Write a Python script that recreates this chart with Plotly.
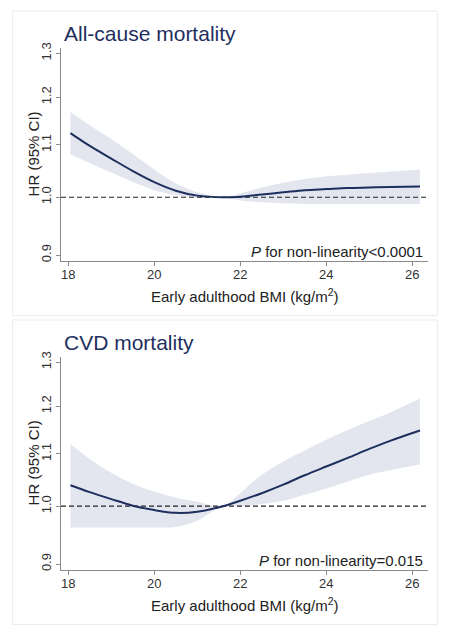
import plotly.graph_objects as go

# BMI grid (kg/m2)
bmi = [18.05, 18.5, 19.0, 19.5, 20.0, 20.5, 21.0, 21.6, 22.0, 22.5, 23.0, 23.5,
       24.0, 24.5, 25.0, 25.5, 26.18]

# all-cause mortality
hr_all = [1.124, 1.098, 1.073, 1.049, 1.028, 1.012, 1.003, 1.000, 1.001, 1.005, 1.009,
          1.013, 1.015, 1.017, 1.018, 1.019, 1.020]
hi_all = [1.168, 1.140, 1.112, 1.082, 1.052, 1.026, 1.009, 1.000, 1.007, 1.018, 1.027,
          1.034, 1.039, 1.042, 1.045, 1.048, 1.052]
lo_all = [1.081, 1.064, 1.046, 1.028, 1.013, 1.004, 0.999, 1.000, 0.994, 0.991, 0.989,
          0.988, 0.988, 0.988, 0.988, 0.988, 0.988]

# CVD mortality
hr_cvd = [1.039, 1.026, 1.013, 1.001, 0.993, 0.988, 0.990, 1.000, 1.010, 1.024, 1.040,
          1.058, 1.075, 1.092, 1.110, 1.127, 1.148]
hi_cvd = [1.120, 1.090, 1.063, 1.042, 1.027, 1.016, 1.008, 1.000, 1.024, 1.059, 1.085,
          1.107, 1.129, 1.149, 1.168, 1.187, 1.217]
lo_cvd = [0.962, 0.962, 0.962, 0.962, 0.962, 0.963, 0.974, 1.000, 1.000, 1.004, 1.010,
          1.021, 1.033, 1.046, 1.059, 1.068, 1.079]

titles = ["All-cause mortality", "CVD mortality"]
p_text = ["<i>P</i> for non-linearity<0.0001", "<i>P</i> for non-linearity=0.015"]
x_ticks = [18, 20, 22, 24, 26]
y_ticks = [0.9, 1.0, 1.1, 1.2, 1.3]
ref_hr = 1.0

W, H = 449, 633
X_RANGE = [17.83, 26.36]
Y_RANGE = [-0.0504, 0.1182]  # log10 units
SHIFT = 8  # page body margin in the browser

FONT = "Arial, Liberation Sans, sans-serif"
NAVY = "#1e2f5e"
BAND = "#e3e6ef"
AXIS = "#8a8a8a"

def px_x(x):
    return (x - SHIFT) / W

def px_y(y):
    return 1 - (y - SHIFT) / H

fig = go.Figure()

panels = [(hr_all, hi_all, lo_all), (hr_cvd, hi_cvd, lo_cvd)]
offsets = [0, 312.4]

for i, (hr, hi, lo) in enumerate(panels):
    xa = "x" if i == 0 else "x2"
    ya = "y" if i == 0 else "y2"
    fig.add_trace(go.Scatter(x=bmi, y=lo, mode="lines", line=dict(width=0, shape="spline"),
                             xaxis=xa, yaxis=ya, hoverinfo="skip", showlegend=False))
    fig.add_trace(go.Scatter(x=bmi, y=hi, mode="lines", line=dict(width=0, shape="spline"),
                             fill="tonexty", fillcolor=BAND,
                             xaxis=xa, yaxis=ya, hoverinfo="skip", showlegend=False))
    fig.add_trace(go.Scatter(x=X_RANGE, y=[ref_hr, ref_hr], mode="lines",
                             line=dict(color="#222222", width=1.2, dash="5px,3px"),
                             xaxis=xa, yaxis=ya, showlegend=False))
    fig.add_trace(go.Scatter(x=bmi, y=hr, mode="lines",
                             line=dict(color=NAVY, width=2, shape="spline"),
                             xaxis=xa, yaxis=ya, showlegend=False))

    off = offsets[i]
    # panel frame
    fig.add_shape(type="rect", xref="paper", yref="paper",
                  x0=px_x(12.7), x1=px_x(437.3), y0=px_y(off + 313), y1=px_y(off + 5),
                  line=dict(color="#ebebeb", width=1), layer="below")
    fig.add_annotation(text=titles[i], xref="paper", yref="paper",
                       x=px_x(62), y=px_y(off + 28), xanchor="left", yanchor="middle",
                       showarrow=False, font=dict(family=FONT, size=21, color=NAVY))
    fig.add_annotation(text="HR (95% CI)", xref="paper", yref="paper", textangle=-90,
                       x=px_x(33), y=px_y(off + 150), xanchor="center", yanchor="middle",
                       showarrow=False, font=dict(family=FONT, size=15, color="#222222"))
    fig.add_annotation(text="Early adulthood BMI (kg/m<sup>2</sup>)", xref="paper", yref="paper",
                       x=px_x(245), y=px_y(off + 293), xanchor="center", yanchor="middle",
                       showarrow=False, font=dict(family=FONT, size=15, color="#222222"))
    fig.add_annotation(text=p_text[i], xref="paper", yref="paper",
                       x=px_x(425), y=px_y(off + 248), xanchor="right", yanchor="middle",
                       showarrow=False, font=dict(family=FONT, size=15, color="#222222"))

x_dom = [px_x(61), px_x(427.7)]
axis_common = dict(showline=True, linecolor=AXIS, linewidth=1.3, ticks="outside",
                   ticklen=4, tickcolor=AXIS, showgrid=False, zeroline=False,
                   tickfont=dict(family=FONT, size=13, color="#333333"))
y_common = dict(type="log", range=Y_RANGE, tickvals=y_ticks,
                ticktext=[f"{v:.1f}" for v in y_ticks], tickangle=-90, **axis_common)

fig.update_layout(
    width=W, height=H,
    margin=dict(l=0, r=0, t=0, b=0),
    paper_bgcolor="white", plot_bgcolor="white",
    xaxis=dict(domain=x_dom, range=X_RANGE, tickvals=x_ticks, anchor="y",
               ticklabelstandoff=-3, **axis_common),
    yaxis=dict(domain=[px_y(257.7), px_y(42.3)], anchor="x", **y_common),
    xaxis2=dict(domain=x_dom, range=X_RANGE, tickvals=x_ticks, anchor="y2",
                ticklabelstandoff=-3, **axis_common),
    yaxis2=dict(domain=[px_y(257.7 + 312.4), px_y(42.3 + 312.4)], anchor="x2", **y_common),
)

fig.write_html("out.html")
